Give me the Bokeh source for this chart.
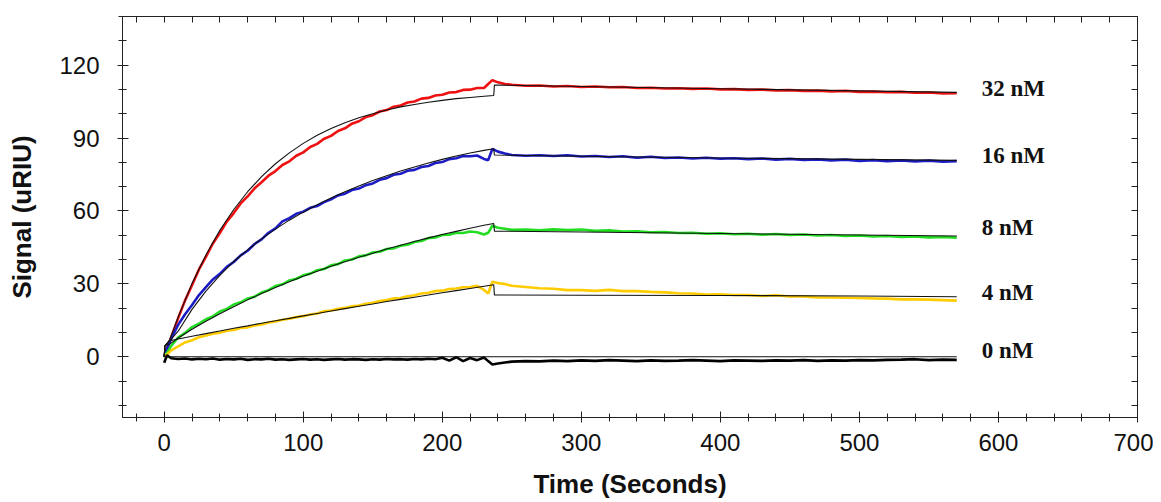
from bokeh.plotting import figure
from bokeh.models import Range1d, LinearAxis, SingleIntervalTicker, FixedTicker, ColumnDataSource
from bokeh.core.properties import value
from bokeh.embed import file_html
from bokeh.resources import INLINE

# ---------------- data ----------------
time_s = [0, 2, 5, 10, 15, 20, 25, 30, 35, 40, 45, 50, 55, 60, 65, 70, 75, 80, 85, 90,
          95, 100, 105, 110, 115, 120, 125, 130, 135, 140, 145, 150, 155, 160, 165, 170,
          175, 180, 185, 190, 195, 200, 205, 210, 215, 220, 225, 230, 233, 236,
          240, 245, 250, 260, 270, 280, 290, 300, 310, 320, 330, 340, 350, 360, 370,
          380, 390, 400, 410, 420, 430, 440, 450, 460, 470, 480, 490, 500, 510, 520,
          530, 540, 550, 560, 570]

sig_32nM = [0, 3.4, 8.0, 15.8, 23.2, 29.4, 35.9, 41.1, 46.6, 50.9, 55.6, 59.1, 63.1, 66.0,
            69.3, 71.8, 74.5, 76.4, 78.9, 80.4, 82.7, 84.1, 86.3, 87.6, 89.7, 90.9, 92.9,
            94.0, 95.9, 96.9, 98.6, 99.4, 100.9, 101.5, 102.9, 103.4, 104.6, 105.0, 106.2,
            106.5, 107.5, 107.8, 108.7, 108.9, 109.8, 109.9, 110.6, 110.6, 112.2, 113.8,
            112.9, 112.2, 111.9, 111.5, 111.6, 111.2, 111.4, 111.0, 111.2, 110.9, 111.0,
            110.6, 110.7, 110.4, 110.5, 110.2, 110.4, 110.0, 110.1, 109.8, 109.9, 109.6,
            109.7, 109.4, 109.5, 109.2, 109.4, 109.0, 109.1, 108.8, 109.0, 108.6, 108.7,
            108.3, 108.4]

sig_16nM = [0, 3.2, 7.4, 13.1, 17.5, 21.3, 25.4, 28.6, 31.8, 34.1, 37.0, 39.0, 41.7, 43.6,
            46.4, 48.3, 51.0, 52.8, 55.7, 57.0, 58.8, 59.7, 61.3, 62.0, 63.6, 64.8, 66.4,
            67.1, 68.6, 69.2, 70.6, 71.3, 72.8, 73.5, 74.9, 75.3, 76.5, 76.9, 78.1, 78.5,
            79.7, 80.1, 81.3, 81.7, 82.6, 82.5, 82.8, 81.4, 80.9, 85.5,
            84.4, 83.6, 83.0, 82.7, 82.9, 82.6, 82.9, 82.4, 82.6, 82.2, 82.5, 81.9, 82.3,
            81.8, 82.0, 81.6, 81.9, 81.5, 81.7, 81.3, 81.6, 81.1, 81.4, 81.0, 81.2, 80.8,
            81.1, 80.6, 80.9, 80.5, 80.8, 80.4, 80.7, 80.3, 80.5]

sig_8nM = [0, 1.6, 4.4, 7.9, 9.8, 12.2, 13.6, 15.4, 16.6, 18.6, 19.7, 21.5, 22.4, 24.0,
           24.7, 26.4, 27.4, 29.1, 29.8, 31.4, 32.1, 33.5, 34.2, 35.6, 36.1, 37.6, 38.1,
           39.6, 40.0, 41.3, 41.7, 42.9, 43.2, 44.3, 44.6, 45.7, 46.1, 47.2, 47.6, 48.8,
           49.1, 50.1, 50.2, 51.0, 50.9, 51.5, 51.2, 50.3, 51.0, 53.9,
           53.1, 52.7, 52.2, 52.3, 52.0, 52.4, 52.1, 52.3, 51.8, 52.0, 51.5, 51.6, 51.2,
           51.3, 50.9, 51.0, 50.6, 50.8, 50.4, 50.6, 50.2, 50.5, 50.1, 50.3, 49.9, 50.1,
           49.7, 49.9, 49.5, 49.7, 49.3, 49.5, 49.1, 49.3, 49.0]

sig_4nM = [0, 0.9, 2.6, 4.3, 5.9, 6.8, 8.0, 8.7, 9.5, 9.9, 10.7, 11.0, 11.8, 12.1, 12.9,
           13.3, 14.1, 14.5, 15.2, 15.6, 16.3, 16.7, 17.4, 17.8, 18.7, 19.0, 19.7, 20.1,
           20.8, 21.1, 21.8, 22.2, 22.9, 23.3, 24.0, 24.2, 24.9, 25.3, 26.0, 26.3, 27.0,
           27.2, 27.9, 28.1, 28.6, 28.7, 29.2, 27.5, 26.0, 30.9,
           30.3, 29.9, 29.2, 28.7, 28.2, 28.0, 27.4, 27.4, 27.1, 27.5, 27.0, 27.0, 26.7,
           26.5, 26.1, 26.0, 25.6, 25.7, 25.4, 25.4, 25.0, 25.3, 24.8, 24.8, 24.4, 24.4,
           24.3, 24.2, 24.0, 23.9, 23.6, 23.6, 23.5, 23.3, 23.1]

sig_0nM = [-2.5, 0.6, -0.6, -0.9, -0.7, -1.1, -0.8, -1.0, -0.7, -1.2, -0.9, -1.1, -0.8,
           -1.3, -1.0, -1.1, -0.8, -1.2, -1.0, -1.3, -1.1, -0.9, -1.2, -1.0, -1.3, -1.1,
           -0.9, -1.2, -1.0, -1.1, -1.3, -1.0, -1.2, -0.9, -1.1, -1.0, -1.2, -0.9, -1.1,
           -0.8, -1.0, -0.4, -1.6, -0.2, -1.8, -0.5, -1.4, -0.3, -1.8, -3.2,
           -2.8, -2.4, -2.0, -1.8, -1.9, -1.6, -1.8, -1.5, -1.7, -1.4, -1.6, -1.8, -1.5,
           -1.7, -1.6, -1.4, -1.6, -1.8, -1.5, -1.6, -1.7, -1.5, -1.6, -1.4, -1.7, -1.5,
           -1.6, -1.4, -1.5, -1.3, -1.2, -1.0, -1.4, -1.2, -1.3]

# fitted curves (thin black lines)
fit_time = [0, 0.5, 4, 10, 20, 30, 40, 50, 60, 70, 80, 90, 100, 110, 120, 130, 140, 150,
            160, 170, 180, 190, 200, 210, 220, 230, 237, 237.5, 300, 400, 500, 570]
fit_32nM = [0, 4.5, 7.0, 16.3, 30.1, 41.9, 52.0, 60.6, 67.9, 74.1, 79.4, 83.9, 87.8, 91.1,
            93.9, 96.3, 98.3, 100.0, 101.5, 102.8, 103.8, 104.7, 105.5, 106.2, 106.7,
            107.2, 107.5, 111.8, 111.2, 110.3, 109.4, 108.8]
fit_16nM = [0, 4.5, 6.5, 10.5, 19.5, 27.0, 33.5, 39.2, 44.0, 48.5, 52.5, 56.2, 59.5, 62.5,
            65.3, 67.9, 70.3, 72.5, 74.5, 76.4, 78.1, 79.7, 81.2, 82.6, 83.8, 84.9, 85.6,
            83.0, 82.5, 81.8, 81.2, 80.8]
fit_8nM = [0, 4.5, 5.2, 7.7, 11.3, 14.6, 17.7, 20.6, 23.4, 26.0, 28.5, 30.9, 33.1, 35.2,
           37.2, 39.1, 40.9, 42.6, 44.3, 45.9, 47.4, 48.9, 50.3, 51.6, 52.9, 54.1, 54.8,
           51.7, 51.3, 50.7, 50.1, 49.7]
fit_4nM = [0, 4.5, 6.6, 7.3, 8.4, 9.5, 10.6, 11.7, 12.7, 13.8, 14.8, 15.8, 16.8, 17.8,
           18.8, 19.8, 20.8, 21.7, 22.7, 23.6, 24.5, 25.4, 26.3, 27.2, 28.1, 29.0, 29.6,
           25.4, 25.3, 25.2, 25.0, 24.7]
fit_0nM_time = [0, 570]
fit_0nM = [0, 0]

conc_labels = ["32 nM", "16 nM", "8 nM", "4 nM", "0 nM"]
label_y = [110.5, 82.9, 53.3, 26.5, 2.5]
label_x = 588

# inner tick marks of the top and right frame edges
top_ticks = [-20, 0, 20, 40, 60, 80, 100, 120, 140, 160, 180, 200, 220, 240, 260, 280,
             300, 320, 340, 360, 380, 400, 420, 440, 460, 480, 500, 520, 540, 560, 580,
             600, 620, 640, 660, 680]
right_ticks = [-20, -10, 0, 10, 20, 30, 40, 50, 60, 70, 80, 90, 100, 110, 120, 130]

series_colors = ["#ee1111", "#1c1cc4", "#22dd22", "#ffcc00", "#000000"]

for name, arr in [("32", sig_32nM), ("16", sig_16nM), ("8", sig_8nM), ("4", sig_4nM), ("0", sig_0nM)]:
    if len(arr) != len(time_s):
        raise ValueError(f"data {name}: {len(arr)} vs {len(time_s)}")
for name, arr in [("32", fit_32nM), ("16", fit_16nM), ("8", fit_8nM), ("4", fit_4nM)]:
    if len(arr) != len(fit_time):
        raise ValueError(f"fit {name}: {len(arr)} vs {len(fit_time)}")

# ---------------- figure ----------------
p = figure(frame_width=1015, frame_height=401,
           x_range=Range1d(-30, 700), y_range=Range1d(-25, 140),
           output_backend="svg", toolbar_location=None,
           x_axis_label="Time (Seconds)", y_axis_label="Signal (uRIU)")
p.min_border_left = 122
p.min_border_right = 16
p.min_border_top = 16
p.min_border_bottom = 77
p.background_fill_color = "white"
p.border_fill_color = "white"
p.outline_line_color = "#222222"
p.outline_line_width = 1
p.xgrid.visible = False
p.ygrid.visible = False

FONT = "Liberation Sans"

xa = p.below[0]
xa.ticker = SingleIntervalTicker(interval=100, num_minor_ticks=5)
ya = p.left[0]
ya.ticker = SingleIntervalTicker(interval=30, num_minor_ticks=3)

for ax in (xa, ya):
    ax.axis_line_color = "#222222"
    ax.major_tick_line_color = "#222222"
    ax.minor_tick_line_color = "#222222"
    ax.major_tick_in = 6
    ax.major_tick_out = 5
    ax.minor_tick_in = 4
    ax.minor_tick_out = 4
    ax.major_label_text_font = FONT
    ax.major_label_text_font_size = "24px"
    ax.major_label_text_color = "#111111"
    ax.axis_label_text_font = FONT
    ax.axis_label_text_font_style = "bold"
    ax.axis_label_text_font_size = "26px"
    ax.axis_label_text_color = "#111111"

xa.major_label_standoff = 11
xa.axis_label_standoff = 15
ya.major_label_standoff = 18
ya.axis_label_standoff = 19

top = LinearAxis(ticker=FixedTicker(ticks=[], minor_ticks=top_ticks),
                 minor_tick_in=6, minor_tick_out=0, major_tick_in=0, major_tick_out=0,
                 axis_line_color="#222222", minor_tick_line_color="#222222")
p.add_layout(top, "above")
right = LinearAxis(ticker=FixedTicker(ticks=[], minor_ticks=right_ticks),
                   minor_tick_in=6, minor_tick_out=0, major_tick_in=0, major_tick_out=0,
                   axis_line_color="#222222", minor_tick_line_color="#222222")
p.add_layout(right, "right")

data_src = ColumnDataSource(dict(t=time_s, s32=sig_32nM, s16=sig_16nM, s8=sig_8nM,
                                 s4=sig_4nM, s0=sig_0nM))
for col, color in zip(["s32", "s16", "s8", "s4", "s0"], series_colors):
    p.line("t", col, source=data_src, line_color=color, line_width=2.6)

fit_src = ColumnDataSource(dict(t=fit_time, f32=fit_32nM, f16=fit_16nM, f8=fit_8nM, f4=fit_4nM))
for col in ["f32", "f16", "f8", "f4"]:
    p.line("t", col, source=fit_src, line_color="#111111", line_width=1.1)
p.line(fit_0nM_time, fit_0nM, line_color="#111111", line_width=1.1)

lab_src = ColumnDataSource(dict(x=[label_x] * len(conc_labels), y=label_y, text=conc_labels))
p.text("x", "y", text="text", source=lab_src, text_font=value("Liberation Serif"),
       text_font_style="bold", text_font_size="23px", text_color="#111111",
       text_align="left", text_baseline="middle")

open("out.html", "w").write(file_html(p, INLINE))
